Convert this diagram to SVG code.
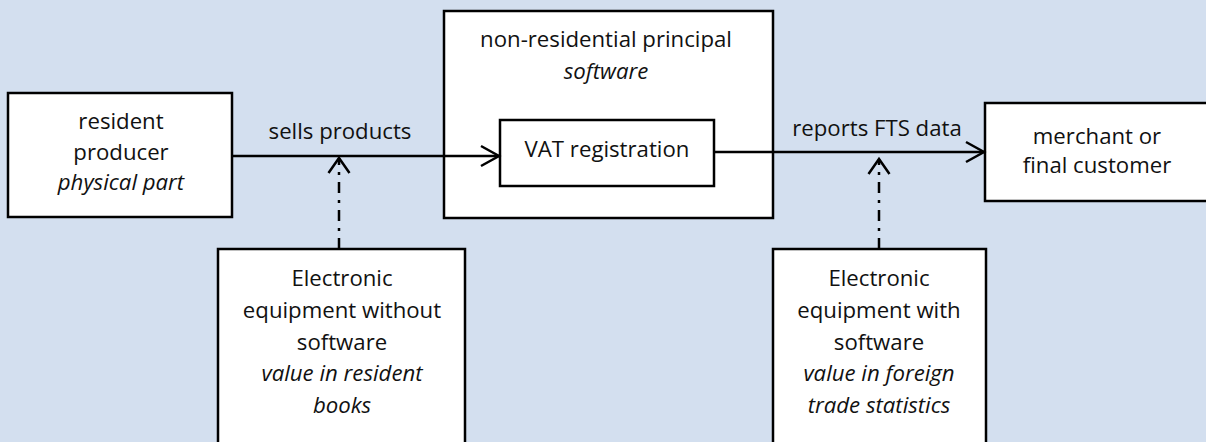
<svg xmlns="http://www.w3.org/2000/svg" width="1206" height="442" viewBox="0 0 1206 442">
<style>
.bg{fill:#D3DFEF}
.box{fill:#fff;stroke:#000;stroke-width:2.5}
.t{font-family:"Open Sans","Noto Sans",sans-serif;font-size:22.2px;fill:#111;text-anchor:middle}
.i{font-style:italic}
.ln{fill:none;stroke:#000;stroke-width:2.5}
.dd{stroke-dasharray:11 7 3 7}
</style>
<defs>
<marker id="ah" markerUnits="userSpaceOnUse" viewBox="-24 -14 28 28" refX="0" refY="0" markerWidth="28" markerHeight="28" orient="auto" overflow="visible">
<path d="M-18,-10 L0,0 L-18,10" fill="none" stroke="#000" stroke-width="2.5" stroke-dasharray="none"/>
</marker>
<marker id="ahd" markerUnits="userSpaceOnUse" viewBox="-24 -14 28 28" refX="0" refY="0" markerWidth="28" markerHeight="28" orient="auto" overflow="visible">
<path d="M-15,-10.5 L0,0 L-15,10.5" fill="none" stroke="#000" stroke-width="2.5" stroke-dasharray="none"/>
</marker>
</defs>
<rect class="bg" x="0" y="0" width="1206" height="442"/>
<g id="principal">
<rect class="box" x="444" y="11" width="329" height="207"/>
<text class="t" x="606" y="47">non-residential principal</text>
<text class="t i" x="606" y="79">software</text>
</g>
<g id="vat">
<rect class="box" x="500" y="120" width="214" height="66"/>
<text class="t" x="607" y="157">VAT registration</text>
</g>
<g id="producer">
<rect class="box" x="8" y="93" width="224" height="124"/>
<text class="t" x="121" y="129">resident</text>
<text class="t" x="121" y="160">producer</text>
<text class="t i" x="121" y="190">physical part</text>
</g>
<g id="customer">
<rect class="box" x="985" y="103" width="240" height="98"/>
<text class="t" x="1097" y="144">merchant or</text>
<text class="t" x="1097" y="173">final customer</text>
</g>
<g id="equip-without">
<rect class="box" x="218" y="249" width="247" height="210"/>
<text class="t" x="342" y="286">Electronic</text>
<text class="t" x="342" y="318">equipment without</text>
<text class="t" x="342" y="349.5">software</text>
<text class="t i" x="342" y="381">value in resident</text>
<text class="t i" x="342" y="413">books</text>
</g>
<g id="equip-with">
<rect class="box" x="773" y="249" width="213" height="210"/>
<text class="t" x="879" y="286">Electronic</text>
<text class="t" x="879" y="318">equipment with</text>
<text class="t" x="879" y="349.5">software</text>
<text class="t i" x="879" y="381">value in foreign</text>
<text class="t i" x="879" y="413">trade statistics</text>
</g>
<g id="connectors">
<path class="ln" d="M232,156 L499,156" marker-end="url(#ah)"/>
<text class="t" x="340" y="139">sells products</text>
<path class="ln" d="M714,152 L984,152" marker-end="url(#ah)"/>
<text class="t" x="877" y="136">reports FTS data</text>
<path class="ln dd" d="M339,249 L339,158" marker-end="url(#ahd)"/>
<path class="ln dd" d="M879,249 L879,159" marker-end="url(#ahd)"/>
</g>
</svg>
